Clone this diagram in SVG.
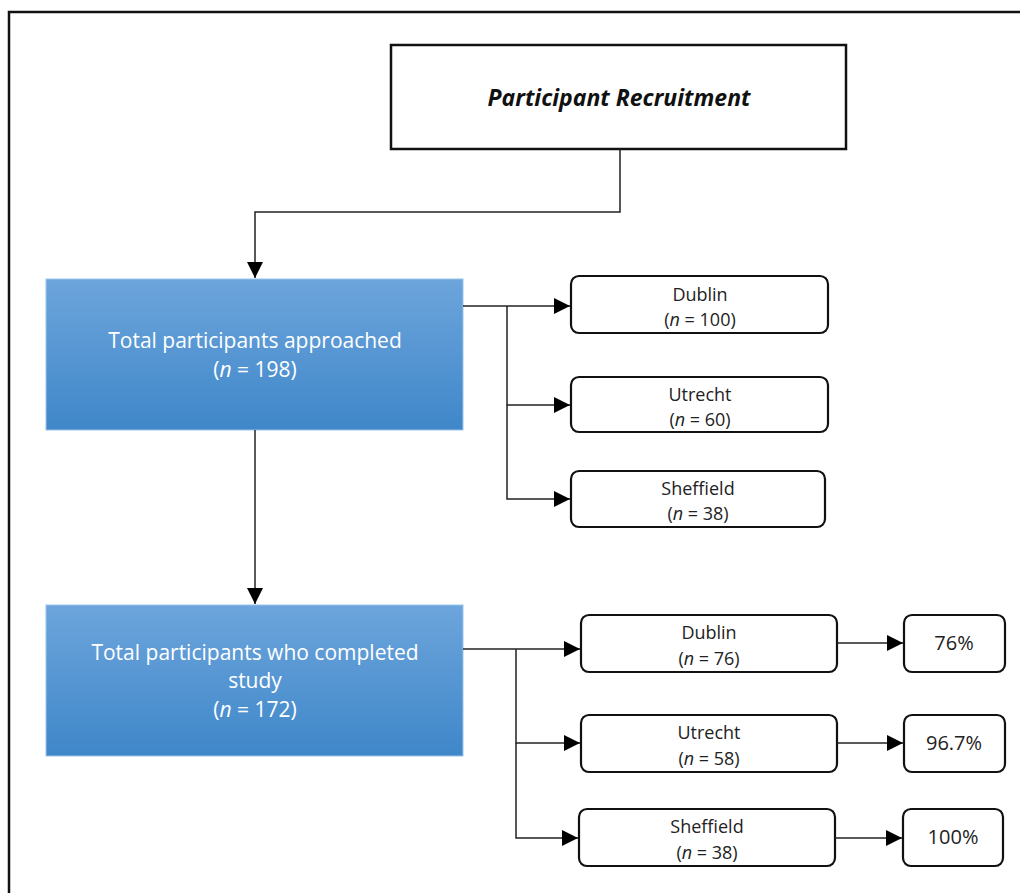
<svg xmlns="http://www.w3.org/2000/svg" width="1020" height="893" viewBox="0 0 1020 893">
<defs>
<linearGradient id="blue" x1="0" y1="0" x2="0" y2="1">
<stop offset="0" stop-color="#6da5dc"/>
<stop offset="1" stop-color="#3f87c9"/>
</linearGradient>
<marker id="arr" viewBox="0 0 10 10" refX="10" refY="5" markerWidth="16" markerHeight="16" markerUnits="userSpaceOnUse" orient="auto">
<path d="M0,0 L10,5 L0,10 z" fill="#000"/>
</marker>
</defs>
<style>
text{font-family:"Open Sans","Liberation Sans",sans-serif;text-anchor:middle}
.site{fill:#fff;stroke:#111;stroke-width:2.2}
.blue{fill:url(#blue);stroke:#9cc3ea;stroke-width:1}
.wt{fill:#fff;font-size:21px}
.bt{fill:#222;font-size:18px}
.pt{fill:#222;font-size:20px}
.con{fill:none;stroke:#222;stroke-width:1.5}
</style>
<rect width="1020" height="893" fill="#fff"/>
<path d="M9,893 V12 H1020" fill="none" stroke="#111" stroke-width="2.5"/>
<g id="recruitment">
<rect x="391" y="45" width="455" height="104" fill="#fff" stroke="#111" stroke-width="2.5"/>
<text x="619" y="106" style="font-size:23px;font-weight:bold;font-style:italic;fill:#111">Participant Recruitment</text>
</g>
<g id="approached">
<rect class="blue" x="46" y="279" width="417" height="151"/>
<text class="wt" x="255" y="348">Total participants approached</text>
<text class="wt" x="255" y="377">(<tspan font-style="italic">n</tspan> = 198)</text>
</g>
<g id="completed">
<rect class="blue" x="46" y="605" width="417" height="151"/>
<text class="wt" x="255" y="660">Total participants who completed</text>
<text class="wt" x="255" y="688">study</text>
<text class="wt" x="255" y="717">(<tspan font-style="italic">n</tspan> = 172)</text>
</g>
<g id="dublin1">
<rect class="site" x="571" y="276" width="257" height="57" rx="8"/>
<text class="bt" x="700" y="301">Dublin</text>
<text class="bt" x="700" y="326">(<tspan font-style="italic">n</tspan> = 100)</text>
</g>
<g id="utrecht1">
<rect class="site" x="571" y="377" width="257" height="55" rx="8"/>
<text class="bt" x="700" y="401">Utrecht</text>
<text class="bt" x="700" y="426">(<tspan font-style="italic">n</tspan> = 60)</text>
</g>
<g id="sheffield1">
<rect class="site" x="571" y="471" width="254" height="56" rx="8"/>
<text class="bt" x="698" y="495">Sheffield</text>
<text class="bt" x="698" y="520">(<tspan font-style="italic">n</tspan> = 38)</text>
</g>
<g id="dublin2">
<rect class="site" x="581" y="615" width="256" height="57" rx="8"/>
<text class="bt" x="709" y="639">Dublin</text>
<text class="bt" x="709" y="665">(<tspan font-style="italic">n</tspan> = 76)</text>
</g>
<g id="utrecht2">
<rect class="site" x="581" y="715" width="256" height="57" rx="8"/>
<text class="bt" x="709" y="739">Utrecht</text>
<text class="bt" x="709" y="765">(<tspan font-style="italic">n</tspan> = 58)</text>
</g>
<g id="sheffield2">
<rect class="site" x="579" y="809" width="256" height="57" rx="8"/>
<text class="bt" x="707" y="833">Sheffield</text>
<text class="bt" x="707" y="859">(<tspan font-style="italic">n</tspan> = 38)</text>
</g>
<g id="pct76">
<rect class="site" x="904" y="615" width="101" height="57" rx="8"/>
<text class="pt" x="954" y="650">76%</text>
</g>
<g id="pct967">
<rect class="site" x="904" y="715" width="101" height="57" rx="8"/>
<text class="pt" x="954" y="750">96.7%</text>
</g>
<g id="pct100">
<rect class="site" x="903" y="809" width="100" height="57" rx="8"/>
<text class="pt" x="953" y="844">100%</text>
</g>
<g id="connectors">
<path class="con" d="M620,149 V212 H255 V278" marker-end="url(#arr)"/>
<path class="con" d="M255,430 V604" marker-end="url(#arr)"/>
<path class="con" d="M463,306 H570" marker-end="url(#arr)"/>
<path class="con" d="M507,306 V405 H570" marker-end="url(#arr)"/>
<path class="con" d="M507,405 V499 H570" marker-end="url(#arr)"/>
<path class="con" d="M463,649 H580" marker-end="url(#arr)"/>
<path class="con" d="M516,649 V743 H580" marker-end="url(#arr)"/>
<path class="con" d="M516,743 V838 H578" marker-end="url(#arr)"/>
<path class="con" d="M837,643 H903" marker-end="url(#arr)"/>
<path class="con" d="M837,743 H903" marker-end="url(#arr)"/>
<path class="con" d="M835,838 H902" marker-end="url(#arr)"/>
</g>
</svg>
